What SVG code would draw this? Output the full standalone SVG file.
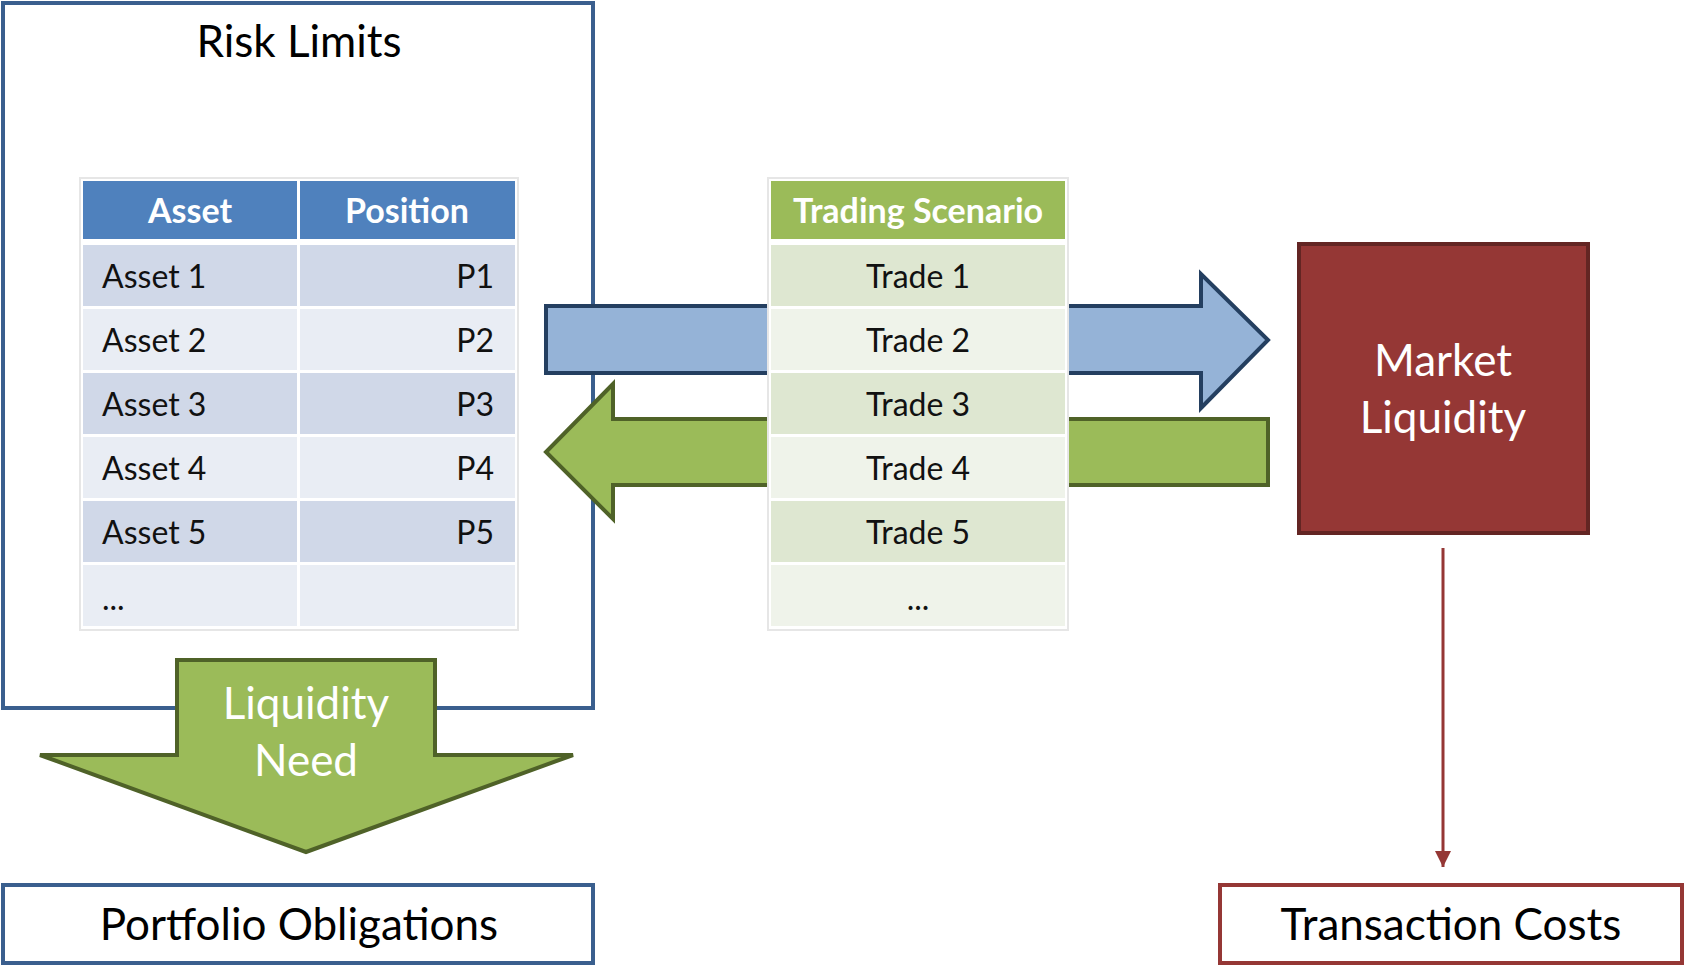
<svg xmlns="http://www.w3.org/2000/svg" width="1685" height="966" viewBox="0 0 1685 966">
<style>
text{font-family:Lato,"Open Sans","Liberation Sans",sans-serif;}
.t{fill:#000;font-size:44px;text-anchor:middle;}
.cell{font-size:32px;fill:#111;}
.hd{font-size:34px;font-weight:bold;fill:#fff;text-anchor:middle;}
.wt{fill:#fff;font-size:44px;text-anchor:middle;}
.bo{fill:#D0D8E8;}
.be{fill:#E9EDF4;}
.go{fill:#DEE7D1;}
.ge{fill:#EFF3EA;}
</style>
<defs>
<marker id="ah" viewBox="0 0 10 10" refX="10" refY="5" markerWidth="5.5" markerHeight="5.5" orient="auto" markerUnits="strokeWidth">
<path d="M0,0 L10,5 L0,10 z" fill="#953735"/>
</marker>
</defs>
<rect width="1685" height="966" fill="#fff"/>

<g id="risk-limits">
<rect x="3" y="3" width="590" height="705" fill="#fff" stroke="#3A5F8E" stroke-width="4"/>
<text class="t" x="299" y="57">Risk Limits</text>
</g>

<g id="portfolio-obligations">
<rect x="3" y="885" width="590" height="78" fill="#fff" stroke="#3A5F8E" stroke-width="4"/>
<text class="t" x="299" y="940">Portfolio Obligations</text>
</g>

<g id="transaction-costs">
<rect x="1220" y="885" width="462" height="78" fill="#fff" stroke="#953735" stroke-width="4"/>
<text class="t" x="1451" y="940">Transaction Costs</text>
</g>

<g id="market-liquidity">
<rect x="1299" y="244" width="289" height="289" fill="#953735" stroke="#632523" stroke-width="4"/>
<text class="wt" x="1443" y="376">Market</text>
<text class="wt" x="1443" y="433">Liquidity</text>
</g>

<g id="connectors">
<path id="blue-arrow" d="M546,306 L1201,306 L1201,274 L1268,340 L1201,408 L1201,373 L546,373 Z" fill="#95B3D7" stroke="#243F60" stroke-width="4" stroke-linejoin="miter"/>
<path id="green-arrow" d="M1268,419 L613,419 L613,384 L546,452 L613,519 L613,485 L1268,485 Z" fill="#9BBB59" stroke="#4F6228" stroke-width="4"/>
<line x1="1443" y1="548" x2="1443" y2="867" stroke="#953735" stroke-width="3" marker-end="url(#ah)"/>
</g>

<g id="liquidity-need">
<path d="M177,660 L435,660 L435,755 L573,755 L306,852 L40,755 L177,755 Z" fill="#9BBB59" stroke="#4F6228" stroke-width="4"/>
<text class="wt" x="306" y="719">Liquidity</text>
<text class="wt" x="306" y="776">Need</text>
</g>

<g id="asset-table">
<rect x="80" y="178" width="438" height="452" fill="#fff" stroke="#E6E6E6" stroke-width="2"/>
<rect x="83" y="181" width="214" height="58" fill="#4F81BD"/>
<rect x="300" y="181" width="215" height="58" fill="#4F81BD"/>
<text class="hd" x="190" y="223">Asset</text>
<text class="hd" x="407" y="223">Position</text>
<rect class="bo" x="83" y="245" width="214" height="61"/><rect class="bo" x="300" y="245" width="215" height="61"/>
<rect class="be" x="83" y="309" width="214" height="61"/><rect class="be" x="300" y="309" width="215" height="61"/>
<rect class="bo" x="83" y="373" width="214" height="61"/><rect class="bo" x="300" y="373" width="215" height="61"/>
<rect class="be" x="83" y="437" width="214" height="61"/><rect class="be" x="300" y="437" width="215" height="61"/>
<rect class="bo" x="83" y="501" width="214" height="61"/><rect class="bo" x="300" y="501" width="215" height="61"/>
<rect class="be" x="83" y="565" width="214" height="61"/><rect class="be" x="300" y="565" width="215" height="61"/>
<text class="cell" x="102" y="288">Asset 1</text><text class="cell" x="494" y="288" text-anchor="end">P1</text>
<text class="cell" x="102" y="352">Asset 2</text><text class="cell" x="494" y="352" text-anchor="end">P2</text>
<text class="cell" x="102" y="416">Asset 3</text><text class="cell" x="494" y="416" text-anchor="end">P3</text>
<text class="cell" x="102" y="480">Asset 4</text><text class="cell" x="494" y="480" text-anchor="end">P4</text>
<text class="cell" x="102" y="544">Asset 5</text><text class="cell" x="494" y="544" text-anchor="end">P5</text>
<text class="cell" x="102" y="610">...</text>
</g>

<g id="trading-table">
<rect x="768" y="178" width="300" height="452" fill="#fff" stroke="#E6E6E6" stroke-width="2"/>
<rect x="771" y="181" width="294" height="58" fill="#9BBB59"/>
<text class="hd" x="918" y="223">Trading Scenario</text>
<rect class="go" x="771" y="245" width="294" height="61"/>
<rect class="ge" x="771" y="309" width="294" height="61"/>
<rect class="go" x="771" y="373" width="294" height="61"/>
<rect class="ge" x="771" y="437" width="294" height="61"/>
<rect class="go" x="771" y="501" width="294" height="61"/>
<rect class="ge" x="771" y="565" width="294" height="61"/>
<text class="cell" x="918" y="288" text-anchor="middle">Trade 1</text>
<text class="cell" x="918" y="352" text-anchor="middle">Trade 2</text>
<text class="cell" x="918" y="416" text-anchor="middle">Trade 3</text>
<text class="cell" x="918" y="480" text-anchor="middle">Trade 4</text>
<text class="cell" x="918" y="544" text-anchor="middle">Trade 5</text>
<text class="cell" x="918" y="610" text-anchor="middle">...</text>
</g>
</svg>
